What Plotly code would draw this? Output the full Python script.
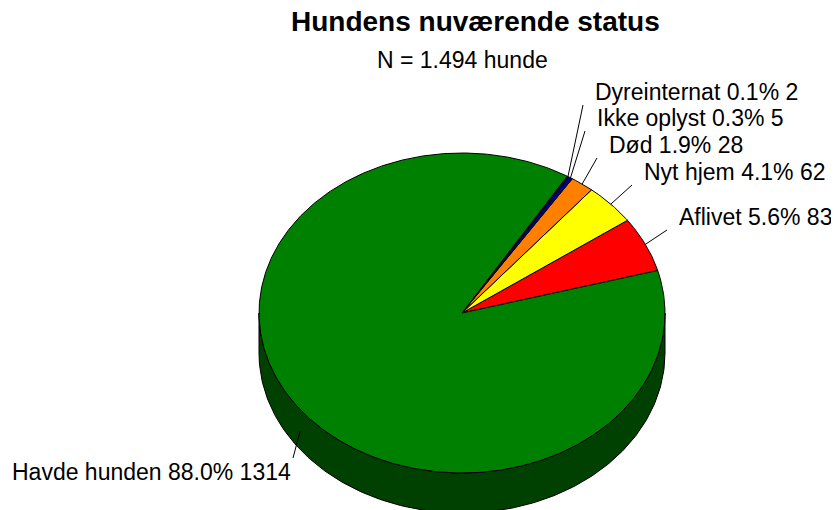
import numpy as np
import plotly.graph_objects as go

# ---- data ----
categories = ["Aflivet", "Nyt hjem", "Død", "Ikke oplyst", "Dyreinternat", "Havde hunden"]
counts = [83, 62, 28, 5, 2, 1314]
colors = ["#FF0000", "#FFFF00", "#FF8000", "#000080", "#000080", "#008000"]
title_text = "Hundens nuværende status"
subtitle_text = "N = 1.494 hunde"

# ---- layout / geometry (page pixels) ----
PAGE_W, PAGE_H = 839, 510
OFF = 8  # default body margin of the page
W, H = PAGE_W - OFF, PAGE_H - OFF
CX, CY, RX, RY, DEPTH = 462, 313, 203, 160, 40
START = 15.4  # math angle (deg, CCW) where the first slice starts
FONT = "Liberation Sans, Arial, sans-serif"
label_pos = [(677, 217), (642, 172), (607, 145), (595, 118), (593, 92), (293, 472)]
label_anchor = ["left", "left", "left", "left", "left", "right"]

total = sum(counts)


def ell(a_deg, dy=0.0):
    a = np.radians(a_deg)
    return CX + RX * np.cos(a), CY - RY * np.sin(a) + dy


fig = go.Figure()

# side wall (front half visible)
t1 = np.linspace(180, 360, 200)
xs_top, ys_top = ell(t1)
xs_bot, ys_bot = ell(t1[::-1], DEPTH)
fig.add_trace(go.Scatter(
    x=np.concatenate([xs_top, xs_bot, xs_top[:1]]),
    y=np.concatenate([ys_top, ys_bot, ys_top[:1]]),
    mode="lines", fill="toself", fillcolor="#004000",
    line=dict(color="black", width=1), hoverinfo="skip", showlegend=False))

# top face slices
angle = START
mids = []
for cat, cnt, col in zip(categories, counts, colors):
    span = 360.0 * cnt / total
    t = np.linspace(angle, angle + span, max(3, int(span * 2)))
    ex, ey = ell(t)
    xs = np.concatenate([[CX], ex, [CX]])
    ys = np.concatenate([[CY], ey, [CY]])
    fig.add_trace(go.Scatter(x=xs, y=ys, mode="lines", fill="toself", fillcolor=col,
                             line=dict(color="black", width=1), name=cat,
                             hoverinfo="name", showlegend=False))
    mids.append(angle + span / 2)
    angle += span

annotations = []
for cat, cnt, mid, (lx, ly), anc in zip(categories, counts, mids, label_pos, label_anchor):
    pct = 100.0 * cnt / total
    text = f"{cat} {pct:.1f}% {cnt}"
    sx, sy = ell(mid)
    if np.sin(np.radians(mid)) < 0:
        sy += DEPTH * 0.55
    if anc == "left":
        exx, eyy = lx - 10, ly + 13
    else:
        exx, eyy = lx, ly - 14
    fig.add_trace(go.Scatter(x=[sx, exx], y=[sy, eyy], mode="lines",
                             line=dict(color="black", width=1),
                             hoverinfo="skip", showlegend=False))
    annotations.append(dict(x=lx, y=ly, text=text, showarrow=False, xanchor=anc,
                            yanchor="middle", font=dict(family=FONT, size=23, color="black")))

annotations.append(dict(x=475, y=21, text=f"<b>{title_text}</b>", showarrow=False,
                        xanchor="center", yanchor="middle",
                        font=dict(family=FONT, size=28, color="black")))
annotations.append(dict(x=462, y=60, text=subtitle_text, showarrow=False,
                        xanchor="center", yanchor="middle",
                        font=dict(family=FONT, size=23, color="black")))

fig.update_layout(
    width=W, height=H, autosize=False,
    margin=dict(l=0, r=0, t=0, b=0),
    paper_bgcolor="white", plot_bgcolor="white",
    xaxis=dict(range=[OFF, OFF + W], visible=False, fixedrange=True),
    yaxis=dict(range=[OFF + H, OFF], visible=False, fixedrange=True),
    annotations=annotations,
    showlegend=False,
)
fig.write_html("out.html")
